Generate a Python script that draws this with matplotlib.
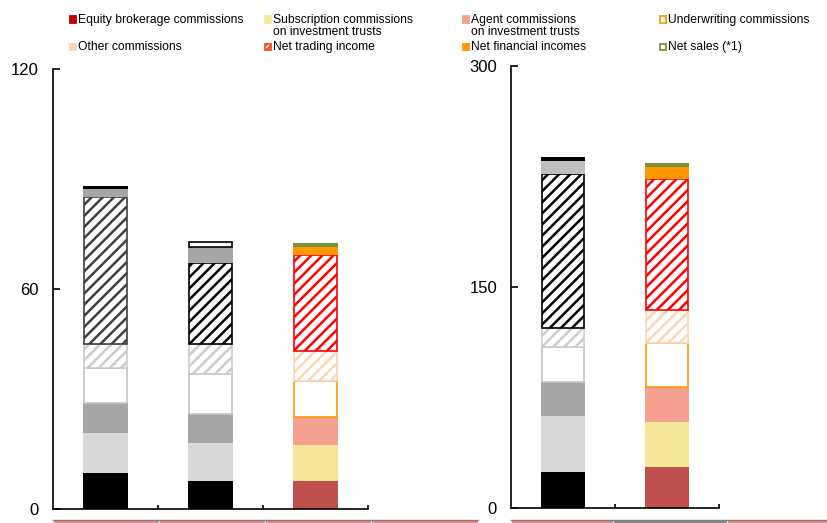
import matplotlib.pyplot as plt
import matplotlib.patches as mpatches
import numpy as np

plt.rcParams['font.family'] = ['Liberation Sans', 'DejaVu Sans']
plt.rcParams['hatch.linewidth'] = 1.8

# legend categories (stack order, bottom to top)
categories = ['Equity brokerage commissions',
              'Subscription commissions\non investment trusts',
              'Agent commissions\non investment trusts',
              'Underwriting commissions',
              'Other commissions',
              'Net trading income',
              'Net financial incomes',
              'Net sales (*1)']

# left panel, three bars
left_vals = [
    [9.9, 10.9, 8.2, 9.4, 6.6, 40.0, 2.2, 1.0],
    [7.7, 10.4, 7.7, 10.9, 8.3, 22.0, 4.5, 1.4],
    [7.7, 9.8, 7.7, 9.8, 8.2, 26.1, 2.2, 1.0],
]
# right panel, two bars
right_vals = [
    [24.6, 37.8, 23.3, 23.4, 12.9, 104.5, 9.3, 2.7],
    [27.6, 31.0, 23.7, 29.5, 22.6, 88.7, 8.6, 2.7],
]
left_yticks = [0, 60, 120]
right_yticks = [0, 150, 300]

# segment styles: (face, edge, hatch)
LG = '#c4c4c4'
HT = '///'
gray_a = [('black', None, None), ('#d9d9d9', None, None), ('#a6a6a6', None, None),
          ('white', LG, None), ('white', '#cccccc', HT), ('white', '#404040', HT),
          ('#a6a6a6', None, None), ('black', None, None)]
gray_b = [('black', None, None), ('#d9d9d9', None, None), ('#a6a6a6', None, None),
          ('white', LG, None), ('white', '#cccccc', HT), ('white', 'black', HT),
          ('#a6a6a6', None, None), ('white', 'black', None)]
gray_c = [('black', None, None), ('#d9d9d9', None, None), ('#a6a6a6', None, None),
          ('white', LG, None), ('white', '#cccccc', HT), ('white', 'black', HT),
          ('#bfbfbf', None, None), ('black', None, None)]
colour = [('#c0504d', None, None), ('#f5e797', None, None), ('#f4a191', None, None),
          ('white', '#ff9900', None), ('white', '#fcd5b4', HT), ('white', '#ff0000', HT),
          ('#ff9900', None, None), ('#77933c', None, None)]

left_styles = [gray_a, gray_b, colour]
right_styles = [gray_c, colour]

W, H = 827, 523
fig = plt.figure(figsize=(W / 100, H / 100), dpi=100)


def draw_panel(ax, vals, styles, yticks):
    for i, (v, st) in enumerate(zip(vals, styles)):
        bottoms = np.concatenate([[0], np.cumsum(v)[:-1]])
        for val, b, (fc, ec, h) in zip(v, bottoms, st):
            if ec is None:
                ax.bar(i + 0.5, val, bottom=b, width=0.42, color=fc, linewidth=0)
            else:
                ax.bar(i + 0.5, val, bottom=b, width=0.405, facecolor=fc,
                       edgecolor=ec, hatch=h, linewidth=1.2)
    n = len(vals)
    ax.set_xlim(0, n)
    ax.set_ylim(0, yticks[-1])
    ax.set_xticks(range(1, n + 1))
    ax.set_xticklabels([])
    ax.set_yticks(yticks)
    ax.tick_params(axis='y', direction='in', length=5, width=1.2, labelsize=12, pad=10)
    ax.tick_params(axis='x', direction='in', length=3, width=1.2)
    for s in ['top', 'right']:
        ax.spines[s].set_visible(False)
    for s in ['left', 'bottom']:
        ax.spines[s].set_linewidth(1.2)
    ax.patch.set_alpha(0)


ax1 = fig.add_axes([53 / W, 1 - 509 / H, (368 - 53) / W, (509 - 69) / H])
draw_panel(ax1, left_vals, left_styles, left_yticks)
ax2 = fig.add_axes([511 / W, 1 - 508 / H, (719 - 511) / W, (508 - 66) / H])
draw_panel(ax2, right_vals, right_styles, right_yticks)

# legend drawn by hand
leg_x = [73, 268, 466, 663]
leg_y = [19.5, 47]
leg_styles = [('#c00000', '#c00000', None), ('#f5e797', '#f5e797', None),
              ('#f4a191', '#f4a191', None), ('white', '#ff9900', None),
              ('#fcd5b4', '#fcd5b4', None), ('white', '#f0501e', '//////'),
              ('#ff9900', '#ff9900', None), ('white', '#77933c', None)]
for k, (lab, (fc, ec, h)) in enumerate(zip(categories, leg_styles)):
    r, c = divmod(k, 4)
    cx, cy = leg_x[c], leg_y[r]
    sq = mpatches.Rectangle(((cx - 3.2) / W, 1 - (cy + 3.2) / H), 6.4 / W, 6.4 / H,
                            transform=fig.transFigure, facecolor=fc, edgecolor=ec,
                            hatch=h, linewidth=1.3)
    fig.add_artist(sq)
    fig.text((cx + 5) / W, 1 - (cy - 6) / H, lab, fontsize=8.7, va='top', ha='left',
             linespacing=1.05)

# top edges of the category label cells below the axes
cells = [(53, 159, '#e87d7d'), (159, 265, '#e87d7d'), (265, 371, '#e87d7d'),
         (371, 478, '#e87d7d'), (511, 613, '#e87d7d'), (613, 727, '#808080'),
         (727, 827, '#e87d7d')]
for x0, x1, col in cells:
    fig.add_artist(mpatches.Rectangle((x0 / W, 0), (x1 - x0) / W, 3 / H,
                                      transform=fig.transFigure, facecolor=col,
                                      edgecolor='white', linewidth=0.8))
    fig.add_artist(plt.Line2D([x0 / W, x1 / W], [3 / H, 3 / H],
                              transform=fig.transFigure, color='#808080', linewidth=1))

fig.savefig('out.png', dpi=100)
